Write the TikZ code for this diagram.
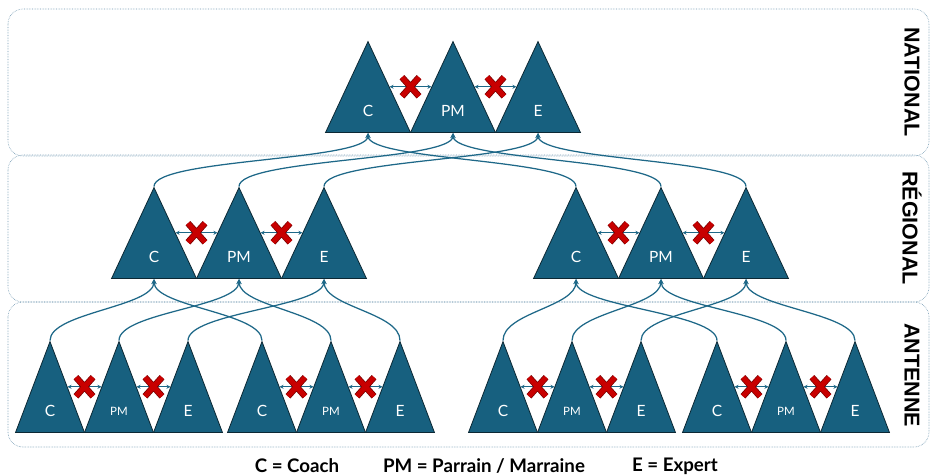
\documentclass[tikz,border=0pt]{standalone}
\usepackage{fontspec}
\setmainfont{Lato}
\newfontfamily\bandfont{Liberation Sans}
\usetikzlibrary{shapes.geometric, shapes.misc, positioning, arrows.meta}

\definecolor{trifill}{RGB}{23,96,127}
\definecolor{triline}{RGB}{12,40,52}
\definecolor{linkblue}{RGB}{30,104,136}
\definecolor{nored}{RGB}{200,0,0}
\definecolor{nodark}{RGB}{120,0,0}
\definecolor{bandline}{RGB}{110,150,175}

\begin{document}
\begin{tikzpicture}[x=1pt, y=-1pt, on grid,
    tri/.style={isosceles triangle, shape border rotate=90, isosceles triangle stretches,
        minimum width=#1, minimum height=91pt, inner sep=0pt, anchor=south,
        fill=trifill, draw=triline, line width=0.8pt},
    tri/.default=85pt,
    lbl/.style={text=white, font=\fontsize{#1}{#1}\selectfont},
    lbl/.default=15.5pt,
    dbl/.style={{Stealth[length=4pt,width=4pt]}-{Stealth[length=4pt,width=4pt]}, draw=linkblue, line width=1pt},
    nix/.style={cross out, draw=nored, line width=5pt, minimum width=12pt, minimum height=14pt, inner sep=0pt,
        preaction={draw=nodark, line width=6.5pt}},
    link/.style={-{Stealth[length=5pt,width=5pt]}, draw=linkblue, line width=1.25pt},
    band/.style={draw=bandline, densely dotted, line width=0.6pt, rounded corners=15pt},
    side/.style={font=\bandfont\bfseries\fontsize{21.5}{21.5}\selectfont, rotate=-90},
    key/.style={font=\bfseries\fontsize{18.7}{18.7}\selectfont}]
    \useasboundingbox (0,0) rectangle (932,476);

    % levels
    \draw[band] (8,9) rectangle (929,156);
    \draw[band] (8,155) rectangle (929,302);
    \draw[band] (8,302) rectangle (929,447);
    \node[side] (lvN) at (912,82) {NATIONAL};
    \node[side] (lvR) at (912,228) {RÉGIONAL};
    \node[side] (lvA) at (912,375) {ANTENNE};

    % C - PM - E groups
    \foreach \grp/\x/\y/\w/\f in {n/368/133/85pt/15.5pt, r1/154/279/85pt/15.5pt, r2/576/279/85pt/15.5pt,
        a1/50/433/69pt/11.5pt, a2/262/433/69pt/11.5pt, a3/503/433/69pt/11.5pt, a4/717/433/69pt/11.5pt} {
        \node[tri=\w] (\grp C) at (\x,\y) {};
        \node[tri=\w, right=\w of \grp C] (\grp PM) {};
        \node[tri=\w, right=\w of \grp PM] (\grp E) {};
        \node[lbl] (\grp Ct) at ([yshift=22pt]\grp C.south) {C};
        \node[lbl=\f] (\grp PMt) at ([yshift=22pt]\grp PM.south) {PM};
        \node[lbl] (\grp Et) at ([yshift=22pt]\grp E.south) {E};
        \draw[dbl] (\grp C.right side) -- node[nix, midway] (\grp X1) {} (\grp PM.left side);
        \draw[dbl] (\grp PM.right side) -- node[nix, midway] (\grp X2) {} (\grp E.left side);
    }

    % links between levels
    \foreach \role in {C,PM,E} {
        \draw[link] (r1\role.apex) .. controls +(0,-28) and +(0,28) .. (n\role.south);
        \draw[link] (r2\role.apex) .. controls +(0,-28) and +(0,28) .. (n\role.south);
        \draw[link] (a1\role.apex) .. controls +(0,-28) and +(0,28) .. (r1\role.south);
        \draw[link] (a2\role.apex) .. controls +(0,-28) and +(0,28) .. (r1\role.south);
        \draw[link] (a3\role.apex) .. controls +(0,-28) and +(0,28) .. (r2\role.south);
        \draw[link] (a4\role.apex) .. controls +(0,-28) and +(0,28) .. (r2\role.south);
    }

    \node[key] (keyC) at (297,466) {C = Coach};
    \node[key] (keyPM) at (484,466) {PM = Parrain / Marraine};
    \node[key] (keyE) at (675,466) {E = Expert};
\end{tikzpicture}
\end{document}
